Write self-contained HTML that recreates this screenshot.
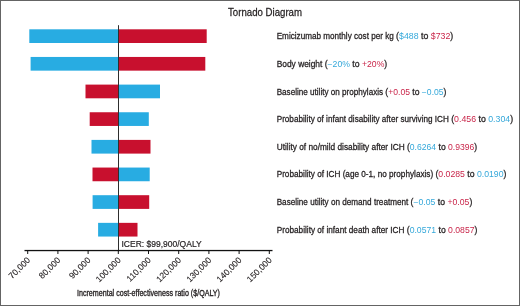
<!DOCTYPE html>
<html><head><meta charset="utf-8"><style>
html,body{margin:0;padding:0;background:#fff;}
body{width:520px;height:306px;overflow:hidden;position:relative;}
.frame{position:absolute;left:0;top:0;width:518px;height:304px;border:1px solid #646464;}
svg{position:absolute;left:0;top:0;will-change:transform;font-family:"Liberation Sans",sans-serif;}
</style></head><body>
<div class="frame"></div>
<svg width="520" height="306" viewBox="0 0 520 306">
<rect x="29.30" y="29.30" width="88.70" height="13.7" fill="#28ace2"/>
<rect x="118.00" y="29.30" width="88.70" height="13.7" fill="#c8102e"/>
<rect x="30.60" y="56.95" width="87.40" height="13.7" fill="#28ace2"/>
<rect x="118.00" y="56.95" width="87.30" height="13.7" fill="#c8102e"/>
<rect x="85.50" y="84.60" width="32.50" height="13.7" fill="#c8102e"/>
<rect x="118.00" y="84.60" width="42.00" height="13.7" fill="#28ace2"/>
<rect x="89.70" y="112.25" width="28.30" height="13.7" fill="#c8102e"/>
<rect x="118.00" y="112.25" width="30.80" height="13.7" fill="#28ace2"/>
<rect x="91.50" y="139.90" width="26.50" height="13.7" fill="#28ace2"/>
<rect x="118.00" y="139.90" width="32.50" height="13.7" fill="#c8102e"/>
<rect x="92.50" y="167.55" width="25.50" height="13.7" fill="#c8102e"/>
<rect x="118.00" y="167.55" width="31.70" height="13.7" fill="#28ace2"/>
<rect x="92.60" y="195.20" width="25.40" height="13.7" fill="#28ace2"/>
<rect x="118.00" y="195.20" width="31.20" height="13.7" fill="#c8102e"/>
<rect x="98.10" y="222.85" width="19.90" height="13.7" fill="#28ace2"/>
<rect x="118.00" y="222.85" width="19.50" height="13.7" fill="#c8102e"/>
<rect x="118.00" y="25.2" width="1" height="226" fill="#2e2e2e"/>
<rect x="24.5" y="249.9" width="248" height="1.3" fill="#111"/>
<rect x="27.20" y="250.5" width="1" height="3.5" fill="#111"/>
<text transform="translate(30.70,260.7) rotate(-45)" text-anchor="end" font-size="8.6" fill="#231f20" stroke="#231f20" stroke-width="0.12">70,000</text>
<rect x="57.40" y="250.5" width="1" height="3.5" fill="#111"/>
<text transform="translate(60.90,260.7) rotate(-45)" text-anchor="end" font-size="8.6" fill="#231f20" stroke="#231f20" stroke-width="0.12">80,000</text>
<rect x="87.60" y="250.5" width="1" height="3.5" fill="#111"/>
<text transform="translate(91.10,260.7) rotate(-45)" text-anchor="end" font-size="8.6" fill="#231f20" stroke="#231f20" stroke-width="0.12">90,000</text>
<rect x="117.80" y="250.5" width="1" height="3.5" fill="#111"/>
<text transform="translate(121.30,260.7) rotate(-45)" text-anchor="end" font-size="8.6" fill="#231f20" stroke="#231f20" stroke-width="0.12">100,000</text>
<rect x="148.00" y="250.5" width="1" height="3.5" fill="#111"/>
<text transform="translate(151.50,260.7) rotate(-45)" text-anchor="end" font-size="8.6" fill="#231f20" stroke="#231f20" stroke-width="0.12">110,000</text>
<rect x="178.20" y="250.5" width="1" height="3.5" fill="#111"/>
<text transform="translate(181.70,260.7) rotate(-45)" text-anchor="end" font-size="8.6" fill="#231f20" stroke="#231f20" stroke-width="0.12">120,000</text>
<rect x="208.40" y="250.5" width="1" height="3.5" fill="#111"/>
<text transform="translate(211.90,260.7) rotate(-45)" text-anchor="end" font-size="8.6" fill="#231f20" stroke="#231f20" stroke-width="0.12">130,000</text>
<rect x="238.60" y="250.5" width="1" height="3.5" fill="#111"/>
<text transform="translate(242.10,260.7) rotate(-45)" text-anchor="end" font-size="8.6" fill="#231f20" stroke="#231f20" stroke-width="0.12">140,000</text>
<rect x="268.80" y="250.5" width="1" height="3.5" fill="#111"/>
<text transform="translate(272.30,260.7) rotate(-45)" text-anchor="end" font-size="8.6" fill="#231f20" stroke="#231f20" stroke-width="0.12">150,000</text>
<text x="276.7" y="39.20" font-size="8.3" fill="#231f20" stroke="#231f20" stroke-width="0.26" textLength="117.08" lengthAdjust="spacingAndGlyphs">Emicizumab monthly cost per kg</text>
<text x="396.09" y="39.20" font-size="8.3" fill="#231f20" stroke="#231f20" stroke-width="0.26" textLength="57.13" lengthAdjust="spacingAndGlyphs">(<tspan fill="#35a8da" stroke="none">$488</tspan> to <tspan fill="#c9264a" stroke="none">$732</tspan>)</text>
<text x="276.7" y="66.85" font-size="8.3" fill="#231f20" stroke="#231f20" stroke-width="0.26" textLength="45.68" lengthAdjust="spacingAndGlyphs">Body weight</text>
<text x="324.69" y="66.85" font-size="8.3" fill="#231f20" stroke="#231f20" stroke-width="0.26" textLength="62.53" lengthAdjust="spacingAndGlyphs">(<tspan fill="#35a8da" stroke="none">−20%</tspan> to <tspan fill="#c9264a" stroke="none">+20%</tspan>)</text>
<text x="276.7" y="94.50" font-size="8.3" fill="#231f20" stroke="#231f20" stroke-width="0.26" textLength="106.38" lengthAdjust="spacingAndGlyphs">Baseline utility on prophylaxis</text>
<text x="385.39" y="94.50" font-size="8.3" fill="#231f20" stroke="#231f20" stroke-width="0.26" textLength="61.03" lengthAdjust="spacingAndGlyphs">(<tspan fill="#c9264a" stroke="none">+0.05</tspan> to <tspan fill="#35a8da" stroke="none">−0.05</tspan>)</text>
<text x="276.7" y="122.15" font-size="8.3" fill="#231f20" stroke="#231f20" stroke-width="0.26" textLength="172.18" lengthAdjust="spacingAndGlyphs">Probability of infant disability after surviving ICH</text>
<text x="451.19" y="122.15" font-size="8.3" fill="#231f20" stroke="#231f20" stroke-width="0.26" textLength="61.93" lengthAdjust="spacingAndGlyphs">(<tspan fill="#c9264a" stroke="none">0.456</tspan> to <tspan fill="#35a8da" stroke="none">0.304</tspan>)</text>
<text x="276.7" y="149.80" font-size="8.3" fill="#231f20" stroke="#231f20" stroke-width="0.26" textLength="127.98" lengthAdjust="spacingAndGlyphs">Utility of no/mild disability after ICH</text>
<text x="406.99" y="149.80" font-size="8.3" fill="#231f20" stroke="#231f20" stroke-width="0.26" textLength="70.23" lengthAdjust="spacingAndGlyphs">(<tspan fill="#35a8da" stroke="none">0.6264</tspan> to <tspan fill="#c9264a" stroke="none">0.9396</tspan>)</text>
<text x="276.7" y="177.45" font-size="8.3" fill="#231f20" stroke="#231f20" stroke-width="0.26" textLength="156.48" lengthAdjust="spacingAndGlyphs">Probability of ICH (age 0-1, no prophylaxis)</text>
<text x="435.49" y="177.45" font-size="8.3" fill="#231f20" stroke="#231f20" stroke-width="0.26" textLength="70.93" lengthAdjust="spacingAndGlyphs">(<tspan fill="#c9264a" stroke="none">0.0285</tspan> to <tspan fill="#35a8da" stroke="none">0.0190</tspan>)</text>
<text x="276.7" y="205.10" font-size="8.3" fill="#231f20" stroke="#231f20" stroke-width="0.26" textLength="131.58" lengthAdjust="spacingAndGlyphs">Baseline utility on demand treatment</text>
<text x="410.59" y="205.10" font-size="8.3" fill="#231f20" stroke="#231f20" stroke-width="0.26" textLength="61.73" lengthAdjust="spacingAndGlyphs">(<tspan fill="#35a8da" stroke="none">−0.05</tspan> to <tspan fill="#c9264a" stroke="none">+0.05</tspan>)</text>
<text x="276.7" y="232.75" font-size="8.3" fill="#231f20" stroke="#231f20" stroke-width="0.26" textLength="127.78" lengthAdjust="spacingAndGlyphs">Probability of infant death after ICH</text>
<text x="406.79" y="232.75" font-size="8.3" fill="#231f20" stroke="#231f20" stroke-width="0.26" textLength="70.63" lengthAdjust="spacingAndGlyphs">(<tspan fill="#35a8da" stroke="none">0.0571</tspan> to <tspan fill="#c9264a" stroke="none">0.0857</tspan>)</text>
<text transform="translate(228,15.7) scale(0.92,1)" font-size="10.5" fill="#231f20" stroke="#231f20" stroke-width="0.25">Tornado Diagram</text>
<text x="121.5" y="247.1" font-size="8.5" fill="#231f20" stroke="#231f20" stroke-width="0.2">ICER: $99,900/QALY</text>
<text transform="translate(77.0,296.0) scale(0.775,1)" font-size="9.2" fill="#231f20" stroke="#231f20" stroke-width="0.35">Incremental cost-effectiveness ratio ($/QALY)</text>
</svg>
</body></html>
